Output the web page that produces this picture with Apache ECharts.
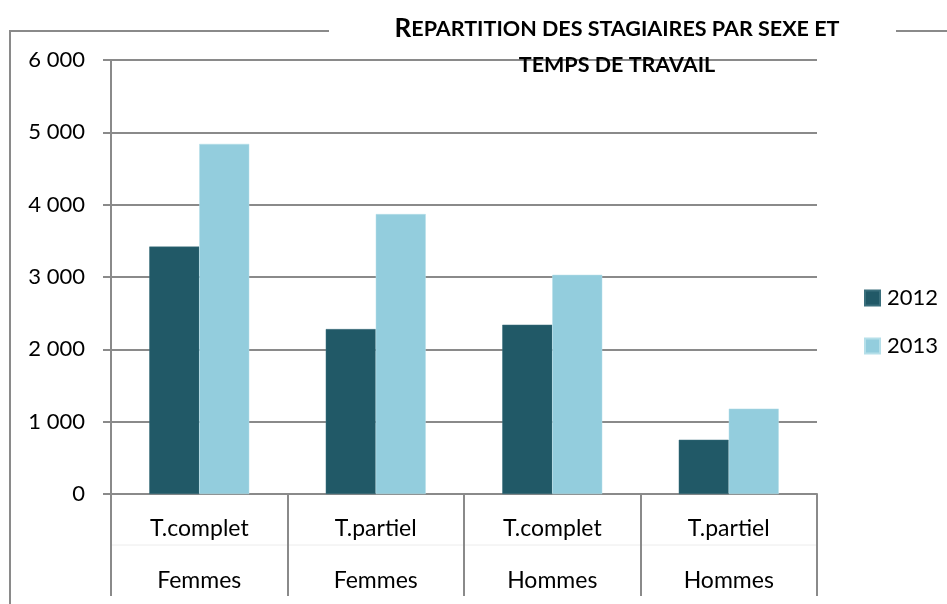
<!DOCTYPE html>
<html>
<head>
<meta charset="utf-8">
<script src="https://cdn.jsdelivr.net/npm/echarts@6/dist/echarts.min.js"></script>
<style>
  html, body { margin: 0; padding: 0; background: #fff; overflow: hidden; }
  #chart { width: 947px; height: 604px; }
</style>
</head>
<body>
<div id="chart"></div>
<script>
// data
const categories = ["T.complet\nFemmes", "T.partiel\nFemmes", "T.complet\nHommes", "T.partiel\nHommes"];
const years = ["2012", "2013"];
const values2012 = [3420, 2280, 2340, 750];
const values2013 = [4840, 3870, 3030, 1180];
const yTicks = { min: 0, max: 6000, interval: 1000 };

const colors = ["#215967", "#93cddd"];
const font = "Lato, 'Open Sans', sans-serif";
const gridColor = "#8a8a8a";

// plot area in pixels
const G = { left: 111, top: 60, right: 130, bottom: 110 };
const W = 947, H = 604;

const chart = echarts.init(document.getElementById("chart"));

// thousands with a space, like the source
const fmt = v => String(v).replace(/\B(?=(\d{3})+(?!\d))/g, " ");

chart.setOption({
  animation: false,
  textStyle: { fontFamily: font },
  title: {
    text: "{big|R}{sc|EPARTITION DES STAGIAIRES PAR SEXE ET}\n{sc|TEMPS DE TRAVAIL}",
    left: 612,
    top: 6,
    textAlign: "center",
    textStyle: {
      rich: {
        big: { fontFamily: font, fontWeight: "bold", fontSize: 26, color: "#000", lineHeight: 36 },
        sc: { fontFamily: font, fontWeight: "bold", fontSize: 21.5, color: "#000", lineHeight: 36 }
      }
    }
  },
  legend: {
    orient: "vertical",
    left: 859,
    top: 282,
    itemWidth: 15,
    itemHeight: 15,
    itemGap: 26,
    icon: "rect",
    textStyle: { fontFamily: font, fontSize: 22, lineHeight: 22, color: "#000", padding: [0, 0, 0, 2] },
    data: years
  },
  // v6: keep the grid where it is even though the category box runs to the bottom
  grid: { left: G.left, top: G.top, right: G.right, bottom: G.bottom, outerBoundsMode: "none" },
  xAxis: {
    type: "category",
    data: categories,
    axisLine: { lineStyle: { color: gridColor, width: 2 } },
    axisTick: { show: true, interval: 0, length: 102, lineStyle: { color: gridColor, width: 2 } },
    axisLabel: {
      interval: 0,
      margin: 9,
      fontFamily: font,
      fontSize: 23,
      color: "#000",
      lineHeight: 52
    }
  },
  yAxis: {
    type: "value",
    min: yTicks.min,
    max: yTicks.max,
    interval: yTicks.interval,
    axisLine: { show: true, lineStyle: { color: gridColor, width: 2 } },
    axisTick: { show: true, length: 8, lineStyle: { color: gridColor, width: 2 } },
    splitLine: { lineStyle: { color: gridColor, width: 2 } },
    axisLabel: {
      margin: 26,
      fontFamily: font,
      fontSize: 22,
      color: "#000",
      formatter: fmt
    }
  },
  series: [
    {
      name: years[0], type: "bar", data: values2012, barWidth: 50, barGap: "0%",
      itemStyle: { color: colors[0], borderColor: "#3a6f7c", borderWidth: 0.5 }
    },
    {
      name: years[1], type: "bar", data: values2013, barWidth: 50,
      itemStyle: { color: colors[1], borderColor: "#b5dfe9", borderWidth: 0.5 }
    }
  ],
  graphic: [
    // chart frame (partly hidden behind the title)
    { type: "polyline", silent: true, shape: { points: [[10, H], [10, 31], [329, 31]] },
      style: { stroke: "#8a8a8a", lineWidth: 2, fill: null } },
    { type: "line", silent: true, shape: { x1: 896, y1: 31, x2: W, y2: 31 },
      style: { stroke: "#8a8a8a", lineWidth: 2 } },
    // faint row separator in the category box
    { type: "line", silent: true, shape: { x1: G.left, y1: 545, x2: W - G.right, y2: 545 },
      style: { stroke: "#ececec", lineWidth: 1 } }
  ]
});
</script>
</body>
</html>
